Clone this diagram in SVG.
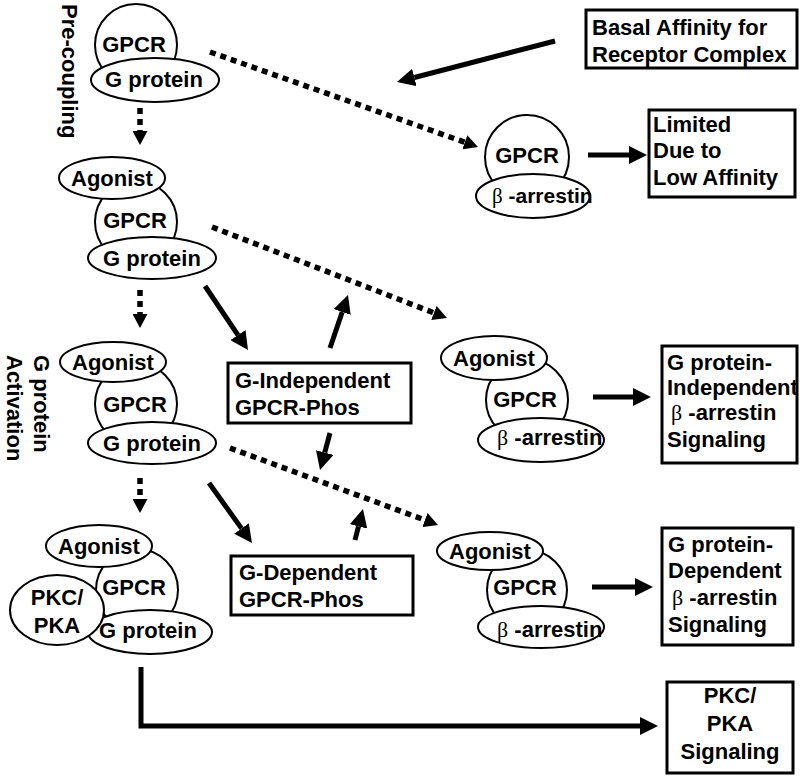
<svg xmlns="http://www.w3.org/2000/svg" width="800" height="778" viewBox="0 0 800 778">
<defs>
<style>
text{font-family:"Liberation Sans",Arial,sans-serif;font-weight:bold;font-size:22px;fill:#000}
.c{text-anchor:middle}
.b{font-family:"Liberation Serif","Times New Roman",serif;font-weight:normal}
.sh{fill:#fff;stroke:#000;stroke-width:2}
.box{fill:#fff;stroke:#000;stroke-width:3}
.sol{fill:none;stroke:#000;stroke-width:5}
.dot{fill:none;stroke:#000;stroke-width:5.5;stroke-dasharray:6 5}
</style>
<marker id="ah" markerUnits="userSpaceOnUse" markerWidth="18" markerHeight="18" viewBox="0 0 18 18" refX="0" refY="9" orient="auto"><path d="M0,0 L18,9 L0,18 z" fill="#000"/></marker>
<marker id="ad" markerUnits="userSpaceOnUse" markerWidth="14" markerHeight="15" viewBox="0 0 14 15" refX="0" refY="7.5" orient="auto"><path d="M0,0 L14,7.5 L0,15 z" fill="#000"/></marker>
</defs>
<rect width="800" height="778" fill="#fff"/>

<g id="labels">
<text transform="translate(62,4) rotate(90)">Pre-coupling</text>
<text transform="translate(34,355) rotate(90)">G protein</text>
<text transform="translate(7,355) rotate(90)">Activation</text>
</g>

<g id="connectors">
<line class="dot" x1="140" y1="108" x2="140" y2="131" marker-end="url(#ad)"/>
<line class="dot" x1="140" y1="290" x2="140" y2="314" marker-end="url(#ad)"/>
<line class="dot" x1="140" y1="478" x2="140" y2="499" marker-end="url(#ad)"/>
<line class="dot" x1="210" y1="52" x2="464.8" y2="142.3" marker-end="url(#ad)"/>
<line class="dot" x1="212" y1="227" x2="433.9" y2="312.9" marker-end="url(#ad)"/>
<line class="dot" x1="230" y1="448" x2="424.9" y2="520.1" marker-end="url(#ad)"/>
<line class="sol" x1="555" y1="41" x2="414.4" y2="77.5" marker-end="url(#ah)"/>
<line class="sol" x1="588" y1="155" x2="629" y2="155" marker-end="url(#ah)"/>
<line class="sol" x1="205" y1="286" x2="238" y2="335.1" marker-end="url(#ah)"/>
<line class="sol" x1="330" y1="348" x2="342.2" y2="312" marker-end="url(#ah)"/>
<line class="sol" x1="330" y1="433" x2="324.7" y2="452.6" marker-end="url(#ah)"/>
<line class="sol" x1="593" y1="397" x2="633" y2="397" marker-end="url(#ah)"/>
<line class="sol" x1="209" y1="483" x2="241.5" y2="528.4" marker-end="url(#ah)"/>
<line class="sol" x1="355" y1="540" x2="358.5" y2="526.4" marker-end="url(#ah)"/>
<line class="sol" x1="592" y1="587" x2="635" y2="587" marker-end="url(#ah)"/>
<polyline class="sol" points="141,667 141,726 640,726" marker-end="url(#ah)"/>
</g>

<g id="precoupled">
<circle class="sh" cx="136" cy="45" r="41"/>
<ellipse class="sh" cx="155" cy="80" rx="64" ry="22"/>
<text class="c" x="134" y="52">GPCR</text>
<text class="c" x="154" y="87">G protein</text>
</g>

<g id="agonist-bound">
<circle class="sh" cx="136" cy="222" r="41"/>
<ellipse class="sh" cx="112" cy="178" rx="53" ry="21"/>
<ellipse class="sh" cx="152" cy="258" rx="64" ry="21"/>
<text class="c" x="112" y="186">Agonist</text>
<text class="c" x="135" y="228">GPCR</text>
<text class="c" x="152" y="266">G protein</text>
</g>

<g id="g-activated">
<circle class="sh" cx="136" cy="404" r="41"/>
<ellipse class="sh" cx="113" cy="362" rx="53" ry="20"/>
<ellipse class="sh" cx="152" cy="443" rx="64" ry="21"/>
<text class="c" x="113" y="370">Agonist</text>
<text class="c" x="135" y="412">GPCR</text>
<text class="c" x="152" y="451">G protein</text>
</g>

<g id="pkc-complex">
<circle class="sh" cx="137" cy="590" r="41"/>
<ellipse class="sh" cx="99" cy="546" rx="53" ry="21"/>
<ellipse class="sh" cx="150" cy="632" rx="62" ry="22"/>
<ellipse class="sh" cx="57" cy="610" rx="47" ry="35"/>
<text class="c" x="99" y="554">Agonist</text>
<text class="c" x="134" y="595">GPCR</text>
<text class="c" x="148" y="638">G protein</text>
<text class="c" x="57" y="605">PKC/</text>
<text class="c" x="57" y="633">PKA</text>
</g>

<g id="g-independent-phos">
<rect class="box" x="228" y="363" width="183" height="60"/>
<text x="235" y="388">G-Independent</text>
<text x="235" y="415">GPCR-Phos</text>
</g>

<g id="g-dependent-phos">
<rect class="box" x="231" y="556" width="182" height="59"/>
<text x="239" y="580">G-Dependent</text>
<text x="239" y="607">GPCR-Phos</text>
</g>

<g id="basal-affinity">
<rect class="box" x="586" y="10" width="211" height="58"/>
<text x="592" y="35">Basal Affinity for</text>
<text x="592" y="62">Receptor Complex</text>
</g>

<g id="arrestin-basal">
<circle class="sh" cx="527" cy="157" r="42"/>
<ellipse class="sh" cx="533" cy="196" rx="57" ry="22"/>
<text class="c" x="527" y="163">GPCR</text>
<text x="492" y="203" style="font-size:21px"><tspan class="b">β</tspan> -arrestin</text>
</g>

<g id="limited">
<rect class="box" x="649" y="110" width="146" height="87"/>
<text x="653" y="132">Limited</text>
<text x="653" y="158">Due to</text>
<text x="653" y="185">Low Affinity</text>
</g>

<g id="arrestin-independent">
<circle class="sh" cx="527" cy="400" r="41"/>
<ellipse class="sh" cx="494" cy="358" rx="53" ry="22"/>
<ellipse class="sh" cx="541" cy="440" rx="63" ry="22"/>
<text class="c" x="494" y="366">Agonist</text>
<text class="c" x="525" y="407">GPCR</text>
<text x="497" y="445"><tspan class="b">β</tspan> -arrestin</text>
</g>

<g id="independent-signaling">
<rect class="box" x="662" y="346" width="135" height="117"/>
<text x="667" y="370">G protein-</text>
<text x="667" y="395">Independent</text>
<text x="671" y="420"><tspan class="b">β</tspan> -arrestin</text>
<text x="667" y="447">Signaling</text>
</g>

<g id="arrestin-dependent">
<circle class="sh" cx="527" cy="590" r="40"/>
<ellipse class="sh" cx="490" cy="551" rx="53" ry="19"/>
<ellipse class="sh" cx="541" cy="627" rx="63" ry="21"/>
<text class="c" x="490" y="559">Agonist</text>
<text class="c" x="525" y="595">GPCR</text>
<text x="497" y="637"><tspan class="b">β</tspan> -arrestin</text>
</g>

<g id="dependent-signaling">
<rect class="box" x="662" y="528" width="131" height="117"/>
<text x="668" y="552">G protein-</text>
<text x="668" y="578">Dependent</text>
<text x="672" y="605"><tspan class="b">β</tspan> -arrestin</text>
<text x="668" y="632">Signaling</text>
</g>

<g id="pkc-signaling">
<rect class="box" x="667" y="682" width="126" height="91"/>
<text class="c" x="730" y="703">PKC/</text>
<text class="c" x="730" y="731">PKA</text>
<text class="c" x="730" y="759">Signaling</text>
</g>
</svg>
